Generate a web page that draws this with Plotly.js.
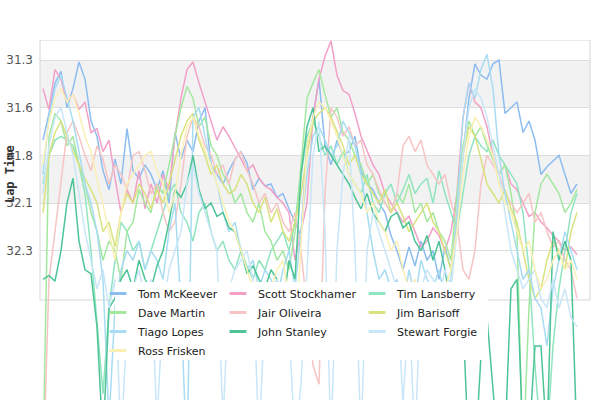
<!DOCTYPE html>
<html>
<head>
<meta charset="utf-8">
<script src="https://cdn.plot.ly/plotly-3.0.1.min.js"></script>
<style>
  html, body { margin: 0; padding: 0; background: #fff; }
  #chart { width: 600px; height: 400px; }
</style>
</head>
<body>
<div id="chart"></div>
<script>
var laps = [1, 2, 3, 4, 5, 6, 7, 8, 9, 10, 11, 12, 13, 14, 15, 16, 17, 18, 19, 20,
  21, 22, 23, 24, 25, 26, 27, 28, 29, 30, 31, 32, 33, 34, 35, 36, 37, 38, 39, 40,
  41, 42, 43, 44, 45, 46, 47, 48, 49, 50, 51, 52, 53, 54, 55, 56, 57, 58, 59, 60,
  61, 62, 63, 64, 65, 66, 67, 68, 69, 70, 71, 72, 73, 74, 75, 76, 77, 78, 79, 80,
  81, 82, 83, 84, 85, 86, 87, 88, 89, 90];

var tomMcKeever = [31.72, 31.58, 31.42, 31.36, 31.55, 31.45, 31.31, 31.40, 31.62, 31.70,
  31.88, 31.98, 31.82, 31.95, 31.66, 31.88, 31.92, 31.85, 31.90, 31.98,
  31.88, 32.05, 31.68, 31.82, 31.72, 31.78, 31.62, 31.55, 31.85, 31.90,
  31.95, 31.88, 31.82, 31.78, 31.84, 31.98, 31.92, 31.96, 31.95, 32.02,
  32.00, 32.08, 32.15, 32.22, 31.75, 31.60, 31.40, 31.75, 31.85, 31.72,
  31.80, 31.78, 31.70, 31.88, 31.95, 31.98, 32.05, 32.10, 32.22, 32.30,
  32.40, 32.28, 32.38, 32.25, 32.35, 32.30, 32.45, 32.28, 32.40, 32.15,
  31.80, 31.50, 31.32, 31.38, 31.40, 31.32, 31.30, 31.58, 31.55, 31.52,
  31.68, 31.62, 31.72, 31.90, 31.86, 31.83, 31.80, 31.90, 32.00, 31.95];

var scottStockhamer = [31.45, 31.56, 31.35, 31.40, 31.52, 31.48, 31.56, 31.52, 31.68, 31.66,
  31.78, 31.72, 31.92, 32.10, 31.98, 32.05, 31.88, 32.08, 31.95, 32.05,
  31.90, 31.98, 31.70, 31.50, 31.35, 31.31, 31.42, 31.52, 31.62, 31.72,
  31.65, 31.70, 31.76, 31.82, 31.88, 31.85, 31.92, 31.96, 31.98, 32.02,
  32.05, 32.10, 32.35, 32.20, 32.05, 31.60, 31.40, 31.28, 31.20, 31.38,
  31.46, 31.48, 31.58, 31.70, 31.78, 31.85, 31.90, 32.00, 32.05, 32.10,
  32.15, 32.12, 32.20, 32.28, 32.25, 32.18, 32.22, 32.30, 32.20, 32.00,
  31.60, 31.42, 31.52, 31.55, 31.65, 31.80, 31.90, 31.85, 31.95, 31.98,
  32.05, 32.12, 32.10, 32.15, 32.18, 32.22, 32.25, 32.30, 32.28, 32.32];

var timLansberry = [31.95, 31.80, 31.72, 31.70, 31.72, 31.75, 31.85, 32.00, 32.30, 32.70,
  33.05, 32.60, 32.35, 32.15, 32.20, 32.30, 32.25, 32.40, 32.30, 32.20,
  32.10, 32.00, 31.95, 32.10, 32.15, 32.25, 32.10, 32.05, 32.20, 32.30,
  32.25, 32.35, 32.40, 32.30, 32.38, 32.45, 32.35, 32.40, 32.30, 32.25,
  32.20, 32.30, 32.15, 31.90, 31.70, 31.62, 31.70, 31.80, 31.75, 31.85,
  31.78, 31.90, 31.95, 32.00, 31.90, 32.05, 32.10, 32.00, 31.95, 32.05,
  31.98, 31.90, 32.00, 31.95, 31.92, 32.05, 31.88, 32.00, 32.10, 32.20,
  32.00, 31.80, 31.70, 31.75, 31.78, 31.72, 31.80, 31.85, 31.90, 31.95,
  32.10, 32.40, 32.90, 33.30, 33.30, 32.80, 32.50, 32.30, 32.10, 32.00];

var daveMartin = [33.40, 31.70, 31.58, 31.62, 31.75, 31.70, 31.85, 31.95, 32.10, 32.20,
  32.35, 32.25, 32.30, 32.45, 32.20, 32.15, 31.98, 32.05, 32.10, 31.95,
  32.00, 31.85, 31.70, 31.55, 31.44, 31.50, 31.65, 31.60, 31.75, 31.80,
  31.90, 31.95, 32.05, 32.00, 32.10, 32.15, 32.05, 32.20, 32.25, 32.35,
  32.30, 32.40, 32.20, 31.85, 31.50, 31.42, 31.35, 31.48, 31.60, 31.55,
  31.68, 31.72, 31.80, 31.85, 31.95, 31.90, 32.00, 32.05, 32.10, 32.00,
  32.05, 31.95, 32.10, 32.05, 32.15, 32.10, 32.20, 32.25, 32.35, 32.00,
  31.75, 31.62, 31.70, 31.65, 31.75, 31.82, 31.90, 31.85, 32.00, 32.20,
  33.40, 32.60, 32.10, 31.95, 31.90, 31.95, 32.00, 32.10, 32.05, 31.98];

var jairOliveira = [33.50, 32.45, 32.20, 31.95, 31.68, 31.62, 31.70, 31.80, 31.88, 31.75,
  31.82, 31.95, 31.85, 31.90, 31.98, 31.80, 31.78, 31.88, 32.00, 31.95,
  32.10, 32.20, 32.15, 31.95, 31.70, 31.60, 31.65, 31.75, 31.80, 31.90,
  31.85, 31.95, 31.82, 31.78, 31.88, 31.95, 32.05, 32.00, 32.10, 32.05,
  32.15, 32.20, 32.10, 32.30, 32.60, 32.90, 33.00, 32.00, 31.55, 31.60,
  31.70, 31.65, 31.75, 31.72, 31.85, 31.90, 31.98, 32.05, 32.10, 32.00,
  31.75, 31.70, 31.78, 31.72, 31.85, 31.90, 31.95, 31.90, 32.05, 32.15,
  32.40, 32.45, 32.30, 31.95, 31.80, 31.85, 31.90, 32.00, 32.05, 32.10,
  32.05, 32.00, 32.15, 32.10, 32.20, 32.28, 32.25, 32.35, 32.40, 32.55];

var jimBarisoff = [32.10, 31.80, 31.68, 31.62, 31.70, 31.78, 31.85, 31.92, 31.98, 32.05,
  32.20, 32.15, 32.28, 32.10, 32.00, 32.05, 31.95, 32.00, 32.08, 31.98,
  32.05, 31.95, 31.82, 31.70, 31.62, 31.58, 31.72, 31.80, 31.90, 31.85,
  31.95, 32.00, 31.98, 31.90, 31.95, 32.05, 32.10, 32.02, 32.15, 32.08,
  32.20, 32.25, 32.15, 32.00, 31.80, 31.62, 31.58, 31.55, 31.60, 31.68,
  31.75, 31.85, 31.80, 31.90, 31.95, 32.00, 32.05, 31.98, 32.10, 32.05,
  32.12, 32.20, 32.15, 32.10, 32.05, 32.15, 32.20, 32.30, 32.40, 32.10,
  31.80, 31.65, 31.70, 31.82, 31.95, 32.00, 32.05, 31.98, 32.08, 32.15,
  32.30, 32.45, 32.55, 32.50, 32.35, 32.25, 32.30, 32.40, 32.20, 32.10];

var tiagoLopes = [31.90, 31.60, 31.45, 31.38, 31.50, 31.62, 31.78, 31.95, 32.05, 32.20,
  32.45, 33.20, 32.60, 32.40, 32.30, 32.35, 32.25, 32.40, 32.30, 32.35,
  32.45, 32.20, 32.05, 32.60, 33.40, 31.60, 31.55, 31.70, 31.85, 31.95,
  32.10, 32.20, 32.15, 32.30, 32.40, 32.35, 32.50, 32.40, 32.45, 32.55,
  32.40, 32.30, 32.50, 32.20, 31.90, 31.70, 31.65, 31.72, 31.80, 31.75,
  31.62, 31.68, 31.75, 31.90, 32.10, 32.30, 32.45, 32.40, 32.50, 32.45,
  32.60, 32.40, 32.55, 32.35, 32.45, 32.50, 32.40, 32.55, 32.45, 32.10,
  31.60, 31.42, 31.50, 31.35, 31.27, 31.45, 31.80, 32.00, 32.15, 32.30,
  32.45, 32.40, 32.55, 32.60, 32.80, 32.50, 32.35, 32.20, 32.30, 32.40];

var johnStanley = [32.45, 32.43, 32.46, 32.30, 32.05, 31.92, 32.25, 32.40, 32.42, 32.70,
  33.30, 32.60, 32.55, 32.45, 32.40, 32.50, 32.35, 32.45, 32.50, 32.38,
  32.30, 32.15, 31.98, 32.02, 31.95, 31.80, 31.98, 32.08, 32.05, 32.12,
  32.10, 32.18, 32.20, 32.30, 32.42, 32.38, 32.45, 32.50, 32.40, 32.45,
  32.60, 32.35, 32.45, 31.90, 31.65, 31.55, 31.78, 31.75, 31.80, 31.85,
  31.90, 31.95, 32.02, 32.08, 32.00, 32.10, 32.15, 32.20, 32.12, 32.10,
  32.18, 32.15, 32.25, 32.30, 32.22, 32.35, 32.25, 32.40, 32.60, 32.70,
  32.65, 33.40, 33.40, 32.85, 32.65, 33.10, 33.40, 33.30, 32.50, 32.45,
  33.30, 33.30, 32.80, 32.80, 33.30, 32.20, 32.35, 32.25, 32.35, 33.30];

var stewartForgie = [32.00, 31.75, 31.60, 31.55, 31.68, 31.80, 32.00, 32.20, 32.35, 32.50,
  32.40, 32.60, 32.45, 33.30, 32.70, 32.50, 32.40, 32.55, 32.45, 33.20,
  32.60, 32.40, 32.30, 32.20, 31.95, 31.85, 32.00, 32.10, 32.20, 32.30,
  33.20, 32.50, 32.40, 32.35, 32.30, 32.45, 33.30, 32.60, 32.50, 32.45,
  32.55, 32.70, 33.30, 33.00, 32.40, 31.80, 31.62, 32.20, 33.30, 32.30,
  31.90, 31.70, 32.30, 33.30, 32.30, 32.10, 32.20, 32.30, 32.40, 32.50,
  33.10, 32.60, 33.30, 32.50, 32.40, 32.45, 32.55, 32.40, 32.50, 32.20,
  31.80, 31.55, 31.45, 31.50, 31.60, 31.75, 31.90, 32.10, 32.30, 32.40,
  32.50, 32.45, 32.40, 32.55, 32.60, 32.45, 32.60, 32.50, 32.65, 32.70];

var rossFrisken = [31.85, 31.62, 31.50, 31.45, 31.52, 31.48, 31.58, 31.70, 31.78, 31.92,
  32.05, 32.20, 32.35, 32.10, 31.95, 31.90, 31.85, 31.80, 31.78, 31.88,
  31.95, 32.10, 32.00, 31.80, 31.65, 31.60, 31.70, 31.78, 31.85, 31.95,
  32.05, 32.15, 32.20, 32.30, 32.40, 32.50, 32.60, 32.70, 32.50, 32.40,
  32.35, 32.55, 32.80, 32.30, 31.75, 31.60, 31.52, 31.55, 31.62, 31.70,
  31.80, 31.90, 31.95, 32.00, 32.10, 32.05, 32.15, 32.20, 32.30, 32.25,
  32.40, 32.50, 32.45, 32.60, 32.55, 32.70, 32.60, 32.50, 32.40, 32.20,
  31.90, 31.70, 31.60, 31.65, 31.72, 31.80, 31.95, 32.05, 32.10, 32.20,
  32.30, 32.25, 32.40, 32.50, 32.45, 32.35, 32.30, 32.40, 32.35, 32.45];

var drivers = ['Tom McKeever', 'Scott Stockhamer', 'Tim Lansberry',
  'Dave Martin', 'Jair Oliveira', 'Jim Barisoff',
  'Tiago Lopes', 'John Stanley', 'Stewart Forgie',
  'Ross Frisken'];
var times = [tomMcKeever, scottStockhamer, timLansberry,
  daveMartin, jairOliveira, jimBarisoff,
  tiagoLopes, johnStanley, stewartForgie,
  rossFrisken];
var colors = ['#8cbcf0', '#f2a0c8', '#90e4bf',
  '#a4e8a0', '#f6c4c4', '#d9e27e',
  '#a8dcf2', '#4cc496', '#c8e6f8',
  '#faf0b4'];
// which legend column each driver sits in
var legendCols = ['legend', 'legend2', 'legend3',
  'legend', 'legend2', 'legend3',
  'legend', 'legend2', 'legend3',
  'legend'];

var tickVals = [31.3, 31.55, 31.8, 32.05, 32.3];
var tickText = ['31.3', '31.6', '31.8', '32.1', '32.3'];

// plot spans the whole lower part so lines run past the frame
var yTop = 31.195, yFrame = 32.5585, yBottom = 33.083;

var data = [];
for (var i = 0; i < drivers.length; i++) {
  data.push({
    x: laps,
    y: times[i],
    type: 'scatter',
    mode: 'lines',
    name: drivers[i],
    showlegend: false,
    line: { color: colors[i], width: 1.5 },
    hoverinfo: 'skip'
  });
}
// short dash symbols for the legend
for (var i = 0; i < drivers.length; i++) {
  data.push({
    x: [null],
    y: [null],
    type: 'scatter',
    mode: 'markers',
    name: drivers[i],
    legend: legendCols[i],
    marker: {
      symbol: 'line-ew',
      size: 12,
      color: colors[i],
      line: { color: colors[i], width: 3 }
    }
  });
}

function legendCol(x) {
  return {
    orientation: 'v',
    x: x,
    y: 0.3361,
    xanchor: 'left',
    yanchor: 'top',
    bgcolor: 'rgba(0,0,0,0)',
    borderwidth: 0,
    tracegroupgap: 0,
    font: { family: 'DejaVu Sans', size: 11, color: '#222' }
  };
}

var layout = {
  width: 600,
  height: 400,
  margin: { l: 40, r: 10, t: 40, b: 0, pad: 0, autoexpand: false },
  paper_bgcolor: '#ffffff',
  plot_bgcolor: '#ffffff',
  font: { family: 'DejaVu Sans', size: 12, color: '#333' },
  showlegend: true,
  xaxis: {
    visible: false,
    range: [0.5, 92.17]
  },
  yaxis: {
    range: [yBottom, yTop],
    tickvals: tickVals,
    ticktext: tickText,
    showgrid: true,
    gridcolor: '#dddddd',
    gridwidth: 1,
    zeroline: false,
    showline: false,
    ticks: '',
    ticklabelstandoff: 6,
    tickfont: { family: 'DejaVu Sans', size: 12, color: '#555' }
  },
  shapes: [
    { type: 'rect', xref: 'paper', yref: 'y', x0: 0, x1: 1, y0: 31.3, y1: 31.55,
      fillcolor: '#f2f2f2', line: { width: 0 }, layer: 'below' },
    { type: 'rect', xref: 'paper', yref: 'y', x0: 0, x1: 1, y0: 31.8, y1: 32.05,
      fillcolor: '#f2f2f2', line: { width: 0 }, layer: 'below' },
    { type: 'rect', xref: 'paper', yref: 'y', x0: 0, x1: 1, y0: yTop, y1: yFrame,
      fillcolor: 'rgba(0,0,0,0)', line: { color: '#d6d6d6', width: 1 }, layer: 'between' },
    // white legend box over the lines
    { type: 'rect', xref: 'paper', yref: 'paper', x0: 0.1364, x1: 0.8145, y0: 0.1111, y1: 0.3278,
      fillcolor: '#ffffff', line: { width: 0 }, layer: 'above' }
  ],
  annotations: [
    {
      xref: 'paper', yref: 'y',
      x: -0.0545, y: 31.898,
      xanchor: 'center', yanchor: 'middle',
      text: 'Lap Time',
      textangle: -90,
      showarrow: false,
      font: { family: 'DejaVu Sans Mono', size: 12, color: '#333', weight: 'bold' }
    }
  ],
  legend: legendCol(0.1055),
  legend2: legendCol(0.3236),
  legend3: legendCol(0.5764)
};

Plotly.newPlot('chart', data, layout, { staticPlot: true, displayModeBar: false });
</script>
</body>
</html>
